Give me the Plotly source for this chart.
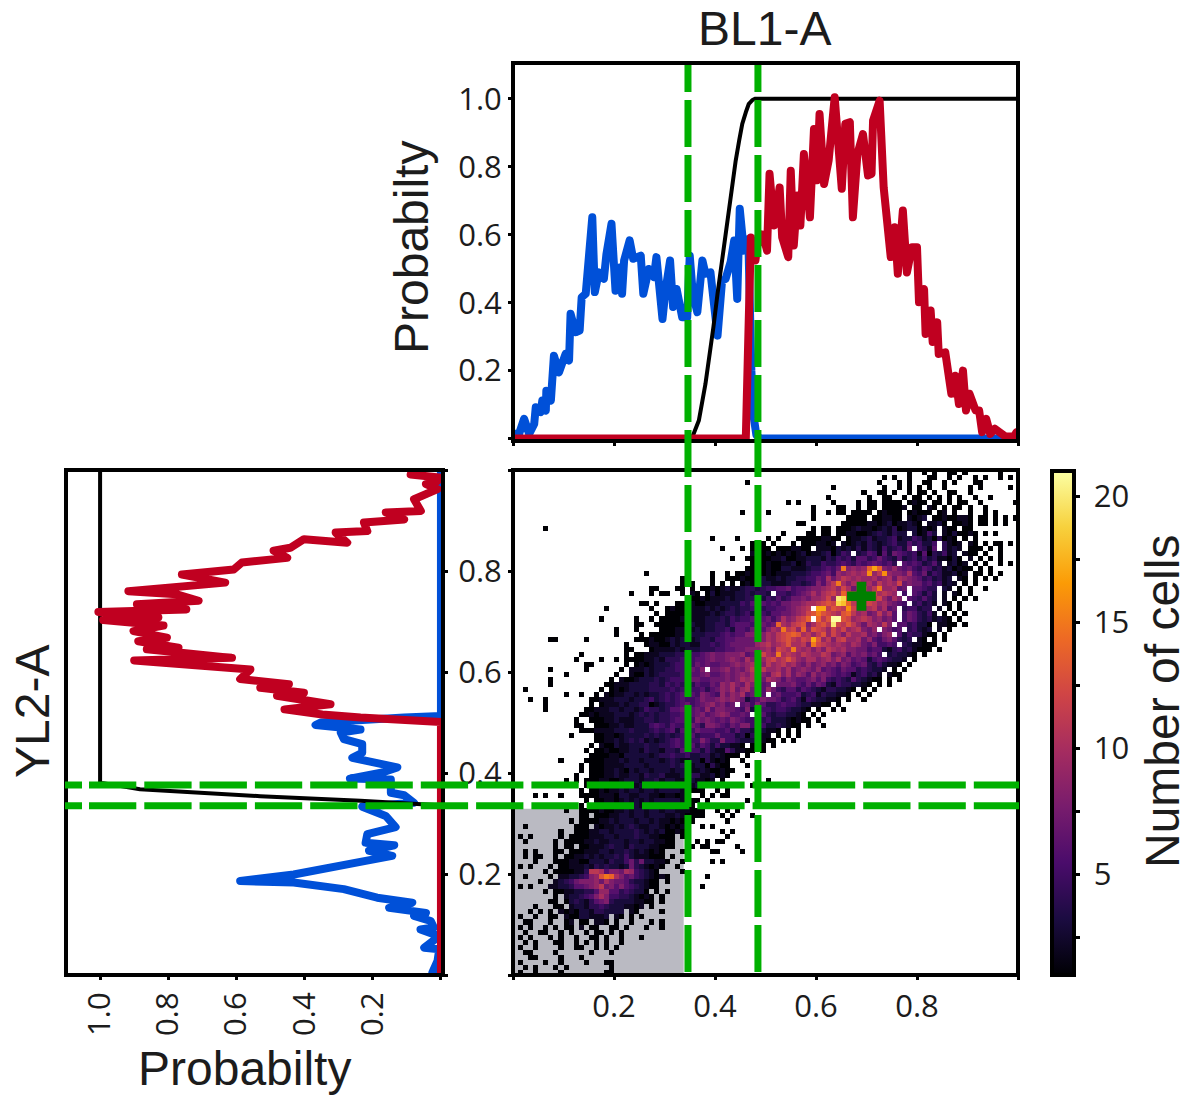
import plotly.graph_objects as go
import plotly.express as px

W, H = 1188, 1095
bl1_blue_x = [0,.002,.012,.022,.032,.042,.045,.055,.058,.065,.066,.075,.081,.091,.104,.111,.114,.124,.132,.136,.144,.157,.162,.170,.180,.185,.195,.203,.213,.216,.220,.231,.238,.253,.258,.269,.279,.284,.296,.302,.311,.317,.324,.335,.345,.350,.356,.365,.375,.381,.391,.405,.414,.421,.431,.438,.444,.449,.457,.466,.468,.472,.477,.482,.49,.93,1]
bl1_blue_v = [.014,.014,.014,.058,.014,.043,.092,.078,.112,.082,.141,.112,.244,.195,.249,.230,.367,.313,.318,.416,.426,.651,.431,.489,.470,.543,.632,.435,.504,.426,.524,.583,.529,.538,.426,.499,.475,.534,.352,.436,.524,.387,.440,.357,.357,.538,.426,.372,.524,.485,.489,.303,.465,.470,.520,.583,.411,.676,.553,.587,.420,.200,.060,.010,0,0,0]
bl1_red_x = [0,.461,.466,.471,.476,.480,.487,.495,.503,.508,.517,.528,.533,.545,.550,.556,.563,.569,.576,.588,.596,.602,.607,.616,.625,.637,.651,.658,.667,.673,.682,.693,.703,.710,.713,.726,.734,.748,.756,.762,.772,.780,.790,.800,.804,.814,.817,.827,.831,.840,.843,.856,.868,.876,.883,.891,.897,.904,.916,.923,.929,.937,.945,.954,.975,.992,.997,1]
bl1_red_v = [0,0,.30,.592,.524,.524,.602,.600,.553,.779,.627,.739,.592,.534,.788,.568,.715,.627,.837,.651,.911,.760,.955,.749,.818,1.004,.735,.926,.931,.651,.837,.896,.774,.779,.936,.994,.739,.534,.622,.485,.671,.489,.563,.563,.401,.440,.308,.377,.284,.342,.249,.254,.132,.185,.102,.200,.083,.132,.083,.083,.019,.058,.014,.029,.006,.006,.019,.02]
bl1_cdf_x = [0,.350,.355,.368,.381,.388,.397,.405,.413,.421,.431,.441,.448,.454,.461,.467,.474,.480,1]
bl1_cdf_v = [0,0,.004,.053,.160,.230,.330,.426,.515,.602,.720,.818,.878,.926,.960,.985,.996,1,1]

yl2_red_v = [.089,.005,.010,.044,.010,.079,.059,.162,.108,.226,.216,.309,.275,.402,.442,.491,.451,.584,.608,.760,.633,.917,.775,.711,.892,.747,1.005,.829,.991,.814,.902,.804,.888,.770,.863,.613,.900,.657,.559,.589,.446,.530,.402,.481,.324,.459,.348,.236,.0,0]
yl2_red_y = [.991,.985,.978,.972,.962,.942,.919,.916,.902,.896,.879,.876,.856,.863,.846,.840,.826,.817,.803,.793,.777,.760,.754,.741,.734,.724,.719,.708,.703,.692,.681,.668,.661,.648,.645,.628,.623,.612,.605,.586,.576,.569,.559,.553,.536,.526,.516,.510,.501,0]
yl2_blue_v = [0,0,.108,.353,.368,.236,.294,.285,.231,.231,.260,.182,.128,.172,.267,.147,.147,.108,.079,.231,.162,.133,.216,.221,.137,.211,.143,.221,.334,.432,.589,.432,.285,.187,.084,.152,.044,.079,.030,.021,.060,.005,.049,.005,.010,.025,0]
yl2_blue_y = [1,.513,.510,.500,.495,.486,.480,.467,.457,.440,.430,.420,.411,.401,.389,.387,.361,.356,.341,.333,.315,.293,.279,.262,.257,.246,.236,.226,.213,.199,.186,.183,.170,.153,.143,.133,.123,.117,.107,.094,.090,.077,.054,.051,.028,.005,0]
yl2_cdf_v = [1,1,.883,.530,.236,.079,.005,0]
yl2_cdf_y = [1,.381,.368,.354,.345,.339,.336,0]

gate_x = [.3465, .485]
gate_y = [.376, .335]
quadrant_x = [0, .338]
quadrant_y = [0, .329]
median_x = [.69]
median_y = [.75]

tick_vals = [0, .2, .4, .6, .8, 1]
tick_text = ["", "0.2", "0.4", "0.6", "0.8", ""]
prob_vals = [0, .2, .4, .6, .8, 1]
prob_text = ["", "0.2", "0.4", "0.6", "0.8", "1.0"]
cbar_vals = [2.5, 5, 7.5, 10, 12.5, 15, 17.5, 20]
cbar_text = ["", "\u00a05", "", "\u00a010", "", "\u00a015", "", "\u00a020"]

# Cell counts per 1% bin, keyed by y bin (0-99).
# Each row: "column|cells;column|cells"; "_" is an empty bin; a..l are 10..21.
COUNT_ROWS = {
99:"78|1__1_1__11_1______1",
98:"73|1_1__1___11__1_1__1_1__1_1",
97:"46|1;72|1___1_1__11__1_1___11",
96:"63|1;73|1__1_1_1_1__1____1_1;98|1",
95:"69|1__11_1__1_11_1__11__1",
94:"62|1;70|1__11__1_11_1_1_1_1__1__1",
93:"54|1_1;63|1;68|1_11_1111_1211_11_1_11__1;99|1",
92:"59|1;64|11__1_11_11112_11_21_1_11_1__1",
91:"45|1;50|1;59|1;62|1_11_1111_12111_12111_12_1__1__1_1",
90:"59|1;66|1111_112211_2123_11211221_11_1_1_1__1",
89:"56|11;65|1111122123122321_2231_1121_11_1_1",
88:"6|1;59|1_11_11123221232412331212_211_11",
87:"53|1;58|11_11_11221123432433_31253_2131121_1_1",
86:"39|1;44|1;50|1_1;56|111112211_1223423345233542314121_1_1",
85:"47|1_1_1;55|1_1112212_21223;68|3243234533645335_4212_21_1_11_1",
84:"41|1;45|1_1_11_1112211_221;62|2132324243253;75|4537_5426_4232_111_1_1",
83:"47|2112121212312;60|2341354_3465263765;78|4526143523_211_1__1",
82:"43|1;46|11_11223112232;59|332435453664575436345;80|353422131_2_1_1_1",
81:"47|1112112231243;60|3544565465676564_656;80|53463_2312_1_1__1_1",
80:"46|11112113322234234;60|45657f8989ehe8797675;80|46534231211_1_1",
79:"26|1;39|1;42|1_112111212223332;57|345;60|5675989a9ag9bg9887a6;80|5735422312_11_1_1",
78:"33|1;39|1;42|11121123223233445;59|5;60|76a79ba9a99a89a7a987;80|6453423_21_1_1_1",
77:"33|1;35|1;39|1;41|1_1_121133222344345;60|869bfa8aa9a8b9a9c787;80|75645232_1_1",
76:"27|11;32|11_1_112123223443455667;55|56678;60|89ab9ca79b9bf99a67_6;80|6544_32_1_1__1",
75:"23|1;27|1_11;33|1_21_1312223343443;52|554;55|5678a;60|8abcaecba99caba9_5_6;80|5353_2_21_1",
74:"35|1121222323344435464;54|57;56|7879;60|9ac9kjdbca8bc97a8_65;80|4643_2_1_1_1",
73:"25|11_1;32|1122112223333546465657;54|78;56|89aa;60|bcdcjiebabcb9a8765_4;80|5342_21_1",
72:"18|1;27|1;30|12111222323234344564;50|556;53|6789ab;60|hhbdcbgca9ab8a67_455;80|344_2_1_1",
71:"28|1_1111122223234434534546;52|67;54|789acd;60|fdcbadeb9a78b8a6_576;80|4352_1_1_1",
70:"17|1;24|1;27|1_1;30|1112122233343545567;49|6757;53|a89bce;60|ebdlldc9aba89786_576;80|4342321_1",
69:"24|11;28|1111112322334435666;47|56767;52|ea9bcd8;59|acdbkcbdb97a98b8_664;79|5331_2211_1",
68:"20|1;24|1;29|11122223233445366576;49|6;50|8a9fbc9e;58|9dcb9cac9ab879_8756;78|45323_2_1",
67:"20|1;25|1_111112223334445656688;48|78;50|a9bcdedab;59|9bd9ca8b99a78689_635;79|44211_1",
66:"7|11;14|1;24|1112112323323443556677;46|77;48|a8a9bcdbacbh;60|d9b8bc99a7965786434;80|21_1_1",
65:"22|1;26|122113233224454567777;47|7;48|9ab9abdaab8f;60|cba9a98a97685565_432;80|2111",
64:"22|11;27|122223233344455667788;48|8;49|9a8cbafa9a8;60|a8ba9a88775663245343;79|2111_1",
63:"13|1;22|1;24|1122233344455678;40|77;42|888967;48|bca9faba9ba9;60|9ba7896878675_34332;79|1_1",
62:"12|1;17|1;20|1;22|111122324445456678;40|778987a8;48|e9bcabdb98;58|aa89a8a7867635654332_1",
61:"14|11;22|1_12123334554576767;39|66;41|7789;45|89ae8b9ab9a87;58|9789786875674353221_1",
60:"7|1;14|1;21|1_222323344556768;39|778978;45|79bcb99a8a78;57|98796765766454332_1_1",
59:"10|1;20|1;23|2113234444556678;39|667878;45|98a987ab8a79;57|8697876565245342_211",
58:"7|1;19|1_2112333434555677;37|667778;43|78a9a87a9868;55|766786854543643211_1_1",
57:"7|1;18|1122233334435454;34|5465576;41|98a87a8967_7;53|778657576325443321_1_1",
56:"2|1;17|1;19|121233334444545;34|455646;40|798a79a78697;52|5466465432443321_1_1",
55:"10|1;13|1;16|1_2122332323345456;34|4658765;41|9798a6786_67;53|55563452433221_1_1",
54:"3|1;6|1;15|1122233323345345;31|45655687;39|78989873568;50|776456425433221_1__1",
53:"6|1;15|1_12223233441234456;33|6756;37|7897867_6758;49|64456554332211_1",
52:"6|1;14|1122233233235443466;33|756;36|769688776583;48|65545543321_1__1_1",
51:"13|11212223332343434455;33|67;35|678678986676_5;49|643443321_1_1",
50:"12|1;15|11122322233443445664;35|5;36|87876768765564;50|533321211_1",
49:"12|11;16|1112232233356546;32|5567;36|6488765768858;49|53343211_1__1",
48:"13|11122223334333454563;33|67;35|57666556464;46|4333221_1_1",
47:"11|1;16|1122123333434343456;35|64555755534;46|14322_1_1_1",
46:"16|11223234342323456;33|565;36|58644855;44|43332211_1_1",
45:"15|1;17|2113223334334456;33|556;36|4653533221_1;49|1;51|1",
44:"14|1_1;17|12112233243324436;34|55535322642;45|21;47|1_1",
43:"15|11;17|112213333323445;32|44533442321;43|11;46|1",
42:"9|1;14|11112223233233323;31|4322331421;41|21__1",
41:"13|1;15|11122223333233334;32|34223314211;46|1",
40:"13|1_1;16|112232132332333233322321;40|1211",
39:"12|1;15|11122322332433422;32|23444223121;46|1",
38:"10|1_1;14|11122112333233423322;34|232212_1;48|1_1",
37:"14|11_1;18|121232232332333232311;39|11;42|1;47|1",
36:"13|1_1;16|121223233233233332;34|2111;40|1_1;48|1",
35:"4|1_1;9|1;13|111122213322332212;31|2121;37|1_1;41|11",
34:"14|1;16|1122123232323333322;35|11;38|1;46|1",
33:"13|1;15|111122323323423323211;37|1;42|1",
32:"10|1;13|1111211223233233233222;35|111;40|1_1_1",
31:"13|11_1;17|1122332332333223211;36|11;41|1_1;47|1",
30:"11|1_11;15|1122323332332322121;35|1;42|1",
29:"2|1;12|111_21223234322332121;33|21;37|1_1",
28:"9|1;12|1112233233334323;28|23112;33|1;41|1_1",
27:"1|1_1;9|1_111122233233343322;28|2111;33|1;42|1",
26:"2|1;8|1_1;11|1112232233323323;27|32211;36|1_1_11",
25:"8|1_11_1;14|12223433243332;28|2111;35|1_11;44|1",
24:"2|1_1;8|11;11|111222332334323;26|2121;33|1;39|11;45|1",
23:"2|1_1;5|1;8|1_1122323233435322;26|2111;31|1",
22:"4|1;8|11;10|1221133324335747332;29|21;33|1;39|1_1",
21:"1|1_1;7|1_1122232434332374321;27|121;32|1",
20:"6|1;8|111;11|1224bba6887a954321;33|1",
19:"2|1;7|1_2233;12|34589dfea86754321;29|21;38|1",
18:"5|1;8|2345788;15|897a8776433211;30|1",
17:"1|1_1;7|223346678;16|9b78686543211;37|1",
16:"6|1_11;10|22334469;18|966454331_1;30|1",
15:"8|1_2334568;17|a8554432121;29|1",
14:"7|11;10|13432467;18|8433332211_1",
13:"4|1;8|11_23324454;19|3332212_1;27|1",
12:"3|1_1;7|1_2121332443333_21;29|1",
11:"1|1;4|1__11_211332223_21_1_1",
10:"2|11;7|1__12_11_221_1__1;23|1;27|1;29|1",
9:"1|1_1__1_1_11_2_11__11_1;26|1;29|1",
8:"2|1;5|11__1_1__1_11_1_1",
7:"1|1_1;7|1_1__1;15|11_1;21|1;25|1",
6:"2|1_1;8|11;12|1_1;16|1_1;21|1",
5:"1|1__1;9|1;12|11__1;18|1_1",
4:"2|11;8|1;15|1;19|1",
3:"3|11;9|1;13|1",
2:"1|1;6|1;9|1;14|1;18|11",
1:"2|1_1;8|1_1;19|1",
0:"1|1;4|1;9|1;18|11",
}


def cell_value(ch):
    return int(ch, 36)


count_grid = [[None] * 100 for _ in range(100)]
for y_bin, row in COUNT_ROWS.items():
    for part in row.split(";"):
        start, cells = part.split("|")
        for offset, ch in enumerate(cells):
            column = int(start) + offset
            if ch != "_" and column < 100:
                count_grid[y_bin][column] = cell_value(ch)

BLUE, RED, GREEN, DARK = "#0050d8", "#c00020", "#00b000", "#1c1c1c"
TICK_FONT = dict(family="Open Sans", size=31, color=DARK)
TITLE_FONT = "Liberation Sans"


def fx(p):
    return p / W


def fy(p):
    return 1 - p / H


MAIN_X, MAIN_Y = (513, 1018), (470, 975)
TOP_Y, LEFT_X = (63, 441), (66, 443)

fig = go.Figure()
fig.add_trace(go.Heatmap(z=count_grid, x0=.005, dx=.01, y0=.005, dy=.01, xaxis="x", yaxis="y",
                         colorscale=px.colors.sequential.Inferno, zmin=1, zmax=21, hoverongaps=False,
                         colorbar=dict(lenmode="pixels", len=504, thickness=22, thicknessmode="pixels",
                                       x=fx(1052), xanchor="left", y=fy(975), yanchor="bottom",
                                       outlinecolor="black", outlinewidth=4, tickmode="array",
                                       tickvals=cbar_vals, ticktext=cbar_text, ticks="outside", ticklen=4,
                                       tickwidth=3, tickcolor="black", tickfont=TICK_FONT, ypad=0, xpad=0)))
fig.add_trace(go.Scatter(x=median_x, y=median_y, mode="markers", xaxis="x", yaxis="y",
                         marker=dict(symbol="cross", size=24, color="#008000")))
fig.add_trace(go.Scatter(x=bl1_blue_x, y=bl1_blue_v, mode="lines", xaxis="x2", yaxis="y2", line=dict(color=BLUE, width=8)))
fig.add_trace(go.Scatter(x=bl1_cdf_x, y=bl1_cdf_v, mode="lines", xaxis="x2", yaxis="y2", line=dict(color="black", width=4)))
fig.add_trace(go.Scatter(x=bl1_red_x, y=bl1_red_v, mode="lines", xaxis="x2", yaxis="y2", line=dict(color=RED, width=8)))
fig.add_trace(go.Scatter(x=yl2_blue_v, y=yl2_blue_y, mode="lines", xaxis="x3", yaxis="y3", line=dict(color=BLUE, width=8)))
fig.add_trace(go.Scatter(x=yl2_cdf_v, y=yl2_cdf_y, mode="lines", xaxis="x3", yaxis="y3", line=dict(color="black", width=4)))
fig.add_trace(go.Scatter(x=yl2_red_v, y=yl2_red_y, mode="lines", xaxis="x3", yaxis="y3", line=dict(color=RED, width=8)))

common = dict(ticks="outside", ticklen=4, tickwidth=3, tickcolor="black", showgrid=False, zeroline=False,
              showline=False, tickmode="array", tickfont=TICK_FONT)

shapes = [dict(type="rect", xref="x", yref="y", x0=quadrant_x[0], x1=quadrant_x[1], y0=quadrant_y[0], y1=quadrant_y[1],
               fillcolor="rgb(186,186,194)", line_width=0, layer="below")]
for box_x, box_y in ((MAIN_X, MAIN_Y), (MAIN_X, TOP_Y), (LEFT_X, MAIN_Y)):
    shapes.append(dict(type="rect", xref="paper", yref="paper", x0=fx(box_x[0]), x1=fx(box_x[1]),
                       y0=fy(box_y[0]), y1=fy(box_y[1]), line=dict(color="black", width=4), layer="above"))
DASH_V = "27px,8px," + ",".join(["47px,8px"] * 16)
DASH_H = "17px,7px," + ",".join(["47.3px,8px"] * 18)
for gx in gate_x:
    shapes.append(dict(type="line", xref="x", yref="paper", x0=gx, x1=gx, y0=fy(65), y1=fy(975),
                       line=dict(color=GREEN, width=7, dash=DASH_V), layer="above"))
for gy in gate_y:
    shapes.append(dict(type="line", xref="paper", yref="y", x0=fx(65), x1=fx(1019), y0=gy, y1=gy,
                       line=dict(color=GREEN, width=7, dash=DASH_H), layer="above"))


def title(text, x, y, angle=0):
    return dict(text=text, xref="paper", yref="paper", x=fx(x), y=fy(y), xanchor="center", yanchor="middle",
                showarrow=False, textangle=angle, font=dict(family=TITLE_FONT, size=48, color=DARK))


fig.update_layout(
    width=W, height=H, margin=dict(l=0, r=0, t=0, b=0, pad=0), paper_bgcolor="white", plot_bgcolor="white",
    showlegend=False,
    xaxis=dict(domain=[fx(MAIN_X[0]), fx(MAIN_X[1])], range=[0, 1], tickvals=tick_vals, ticktext=tick_text, anchor="y", **common),
    yaxis=dict(domain=[fy(MAIN_Y[1]), fy(MAIN_Y[0])], range=[0, 1], tickvals=tick_vals, ticktext=tick_text, anchor="x", **common),
    xaxis2=dict(domain=[fx(MAIN_X[0]), fx(MAIN_X[1])], range=[0, 1], tickvals=tick_vals, ticktext=[""] * 6, anchor="y2", **common),
    yaxis2=dict(domain=[fy(TOP_Y[1]), fy(TOP_Y[0])], range=[-.007, 1.105], tickvals=prob_vals, ticktext=prob_text, anchor="x2", **common),
    xaxis3=dict(domain=[fx(LEFT_X[0]), fx(LEFT_X[1])], range=[1.1, -.006], tickvals=prob_vals, ticktext=prob_text, tickangle=-90, anchor="y3", **common),
    yaxis3=dict(domain=[fy(MAIN_Y[1]), fy(MAIN_Y[0])], range=[0, 1], tickvals=tick_vals, ticktext=[""] * 6, side="right", anchor="x3", **common),
    shapes=shapes,
    annotations=[title("BL1-A", 764, 28), title("Probabilty", 411, 248, -90), title("Probabilty", 244, 1068),
                 title("YL2-A", 32, 712, -90), title("Number of cells", 1162, 702, -90)],
)
fig.write_html("out.html", config={"displayModeBar": False},
               post_script="document.body.style.margin='0';document.querySelectorAll('.js-line').forEach(function(e){e.style.strokeLinejoin='round';e.style.strokeLinecap='round';});")
